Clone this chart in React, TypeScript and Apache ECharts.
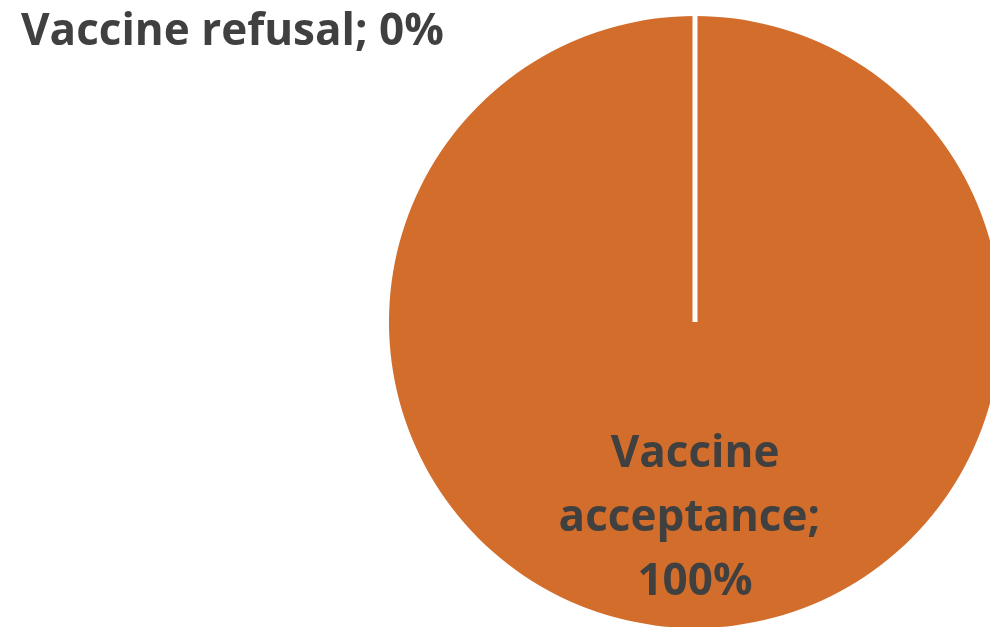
import React, { useEffect, useRef } from "react";
import * as echarts from "echarts";

const categories = ["Vaccine acceptance", "Vaccine refusal"];
const values = [100, 0];

const CENTER: [number, number] = [695, 322];
const RADIUS = 306;
const SLICE_COLOR = "#D26D2B";
const TEXT_COLOR = "#404040";
const FONT = "'Open Sans', Lato, sans-serif";
const FONT_SIZE = 44;

export default function App() {
  const ref = useRef<HTMLDivElement>(null);

  useEffect(() => {
    if (!ref.current) return;
    const chart = echarts.init(ref.current, undefined, { renderer: "svg" });
    const total = values.reduce((a, b) => a + b, 0);
    const pct = (v: number) => `${Math.round((v / total) * 100)}%`;

    chart.setOption({
      animation: false,
      title: {
        text: `${categories[1]}; ${pct(values[1])}`,
        left: 16,
        top: 5,
        padding: [1, 5, 5, 5],
        textStyle: {
          fontFamily: FONT,
          fontWeight: "bold",
          fontSize: FONT_SIZE,
          color: TEXT_COLOR,
        },
      },
      series: [
        {
          type: "pie",
          center: CENTER,
          radius: RADIUS,
          startAngle: 90,
          clockwise: true,
          silent: true,
          data: categories.map((name, i) => ({
            name,
            value: values[i],
            label: { show: values[i] > 0 },
          })),
          itemStyle: { color: SLICE_COLOR },
          label: {
            position: "inner",
            formatter: (p: any) =>
              p.name.replace(" ", "\n") + "; \n" + pct(p.value),
            fontFamily: FONT,
            fontWeight: "bold",
            fontSize: FONT_SIZE,
            lineHeight: 64,
            color: TEXT_COLOR,
            offset: [0, 36],
          },
          labelLine: { show: false },
        },
      ],
      graphic: [
        {
          // boundary of the zero slice at the start angle
          type: "line",
          shape: {
            x1: CENTER[0],
            y1: CENTER[1],
            x2: CENTER[0],
            y2: CENTER[1] - RADIUS,
          },
          style: { stroke: "#ffffff", lineWidth: 5 },
          z: 10,
        },
      ],
    });
    return () => chart.dispose();
  }, []);

  return (
    <div
      ref={ref}
      style={{ position: "fixed", left: 0, top: 0, width: 990, height: 627 }}
    />
  );
}
